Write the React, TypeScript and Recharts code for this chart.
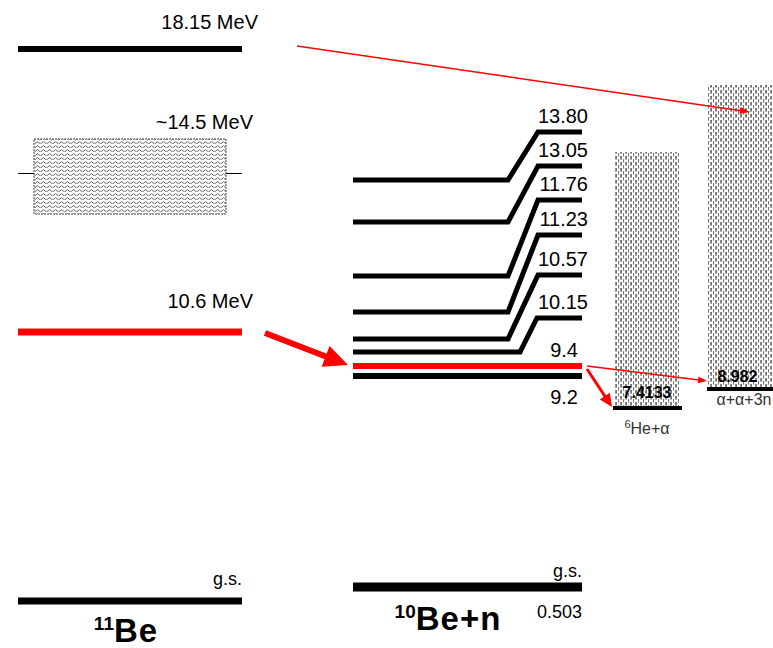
import {
  ComposedChart,
  XAxis,
  YAxis,
  Line,
  ReferenceLine,
  ReferenceArea,
  ReferenceDot,
  Customized,
} from 'recharts';

const WIDTH = 773;
const HEIGHT = 648;
const FONT = "'Liberation Sans', Arial, sans-serif";
const RED = '#ff0000';

// 11Be levels (label, height on the diagram)
const be11Names = ['18.15 MeV', '10.6 MeV', 'g.s.'];
const be11Heights = [599, 316, 47];

// broad state around 14.5 MeV, drawn as a band [bottom, top]
const be11BandName = '~14.5 MeV';
const be11Band = [434, 509];

// 10Be+n levels: height at the left (11Be side) and at the right (labelled side)
const be10nNames = ['13.80', '13.05', '11.76', '11.23', '10.57', '10.15', '9.4', '9.2', 'g.s.'];
const be10nLeft = [468, 426, 372, 336, 309, 296, 282, 272, 61];
const be10nRight = [516, 482, 448, 413, 373, 330, 282, 272, 61];
const be10nGsEnergy = '0.503';

// decay thresholds
const thresholdValues = ['7.4133', '8.982'];
const thresholdHeights = [240, 259];
const thresholdTops = [496, 563];

// transitions: [fromX, fromH, toX, toH]
const transitions = [
  [297, 602, 750, 536],
  [265, 315, 348, 283],
  [587, 282, 707, 267],
  [587, 279, 612, 241],
];

// column layout
const COL_11BE = [18, 242];
const COL_10BEN = [353, 582];
const BEND_START = [508, 508, 508, 508, 508, 520];
const BEND_END = [538, 538, 538, 538, 538, 537];
const THRESH_BOX = [
  [615, 679],
  [708, 773],
];
const THRESH_LINE = [
  [613, 682],
  [707, 773],
];

const arrowLook = [
  { w: 1.5, head: 10, headW: 7 },
  { w: 6, head: 24, headW: 22 },
  { w: 1.5, head: 9, headW: 7 },
  { w: 3, head: 13, headW: 12 },
];

function Patterns() {
  return (
    <defs>
      <pattern id="wavy" width="6" height="4" patternUnits="userSpaceOnUse">
        <rect width="6" height="4" fill="#fff" />
        <path d="M0 2.8 Q1.5 0.6 3 2.8 T6 2.8" fill="none" stroke="#555" strokeWidth="0.9" />
      </pattern>
      <pattern id="dashes" width="5" height="6" patternUnits="userSpaceOnUse">
        <rect width="5" height="6" fill="#fff" />
        <rect x="0.5" y="0" width="1.1" height="3.6" fill="#1a1a1a" />
        <rect x="3" y="3" width="1.1" height="3.6" fill="#777" />
        <rect x="3" y="-3" width="1.1" height="3.6" fill="#777" />
      </pattern>
    </defs>
  );
}

type ArrowProps = { x1?: number; y1?: number; x2?: number; y2?: number; w: number; head: number; headW: number };

function Arrow({ x1 = 0, y1 = 0, x2 = 0, y2 = 0, w, head, headW }: ArrowProps) {
  const dx = x2 - x1;
  const dy = y2 - y1;
  const len = Math.hypot(dx, dy) || 1;
  const ux = dx / len;
  const uy = dy / len;
  const bx = x2 - ux * head;
  const by = y2 - uy * head;
  const px = -uy * (headW / 2);
  const py = ux * (headW / 2);
  return (
    <g>
      <line x1={x1} y1={y1} x2={bx + ux} y2={by + uy} stroke={RED} strokeWidth={w} />
      <polygon points={`${x2},${y2} ${bx + px},${by + py} ${bx - px},${by - py}`} fill={RED} />
    </g>
  );
}

type TagOpts = {
  dx?: number;
  dy?: number;
  size?: number;
  anchor?: 'start' | 'middle' | 'end';
  bold?: boolean;
  color?: string;
};

// label drawn relative to a ReferenceDot position
function tag(content: React.ReactNode, { dx = 0, dy = 0, size = 20, anchor = 'end', bold = false, color = '#000' }: TagOpts) {
  return (props: any) => {
    const vb = props.viewBox || { x: 0, y: 0 };
    return (
      <text
        x={vb.x + dx}
        y={vb.y + dy}
        textAnchor={anchor}
        fontSize={size}
        fontFamily={FONT}
        fontWeight={bold ? 'bold' : 'normal'}
        fill={color}
      >
        {content}
      </text>
    );
  };
}

function level(key: string, pts: { x: number; y: number }[], color: string, width: number) {
  return (
    <Line
      key={key}
      data={pts}
      dataKey="y"
      type="linear"
      stroke={color}
      strokeWidth={width}
      strokeLinejoin="miter"
      dot={false}
      activeDot={false}
      isAnimationActive={false}
    />
  );
}

export default function App() {
  const [l, r] = COL_11BE;
  const [nl, nr] = COL_10BEN;
  const bandMid = (be11Band[0] + be11Band[1]) / 2 + 3;

  const be11Offsets = [
    { dx: 16, dy: -20, size: 20 },
    { dx: 11, dy: -24, size: 20 },
    { dx: 0, dy: -16, size: 18 },
  ];

  return (
    <div style={{ position: 'absolute', left: 0, top: 0, width: WIDTH, height: HEIGHT, background: '#fff' }}>
      <ComposedChart width={WIDTH} height={HEIGHT} margin={{ top: 0, right: 0, bottom: 0, left: 0 }}>
        <Customized component={<Patterns />} />
        <XAxis type="number" dataKey="x" domain={[0, WIDTH]} hide allowDataOverflow />
        <YAxis type="number" domain={[0, HEIGHT]} hide allowDataOverflow />

        {/* threshold continua */}
        {thresholdHeights.map((h, i) => (
          <ReferenceArea
            key={`tb${i}`}
            x1={THRESH_BOX[i][0]}
            x2={THRESH_BOX[i][1]}
            y1={h}
            y2={thresholdTops[i]}
            fill="url(#dashes)"
            fillOpacity={1}
            stroke="none"
            ifOverflow="visible"
          />
        ))}

        {/* 11Be broad state */}
        <ReferenceArea
          x1={34}
          x2={226}
          y1={be11Band[0]}
          y2={be11Band[1]}
          fill="url(#wavy)"
          fillOpacity={1}
          stroke="#444"
          strokeWidth={1}
          strokeDasharray="2 1"
        />
        <ReferenceLine segment={[{ x: l, y: bandMid }, { x: 34, y: bandMid }]} stroke="#000" strokeWidth={1} />
        <ReferenceLine segment={[{ x: 226, y: bandMid }, { x: r, y: bandMid }]} stroke="#000" strokeWidth={1} />

        {/* 11Be levels */}
        {be11Heights.map((h, i) =>
          level(`b11${i}`, [{ x: l, y: h }, { x: r, y: h }], be11Names[i] === '10.6 MeV' ? RED : '#000', i === 0 ? 6 : 7),
        )}

        {/* 10Be+n levels */}
        {be10nNames.map((name, i) => {
          const lh = be10nLeft[i];
          const rh = be10nRight[i];
          const pts =
            lh === rh
              ? [{ x: nl, y: lh }, { x: nr, y: rh }]
              : [
                  { x: nl, y: lh },
                  { x: BEND_START[i], y: lh },
                  { x: BEND_END[i], y: rh },
                  { x: nr, y: rh },
                ];
          const color = name === '9.4' ? RED : '#000';
          const w = name === 'g.s.' ? 9 : lh === rh ? 6 : 5;
          return level(`b10${i}`, pts, color, w);
        })}

        {/* threshold lines */}
        {thresholdHeights.map((h, i) =>
          level(`th${i}`, [{ x: THRESH_LINE[i][0], y: h }, { x: THRESH_LINE[i][1], y: h }], '#000', 4),
        )}

        {/* transitions */}
        {transitions.map(([x1, y1, x2, y2], i) => (
          <ReferenceLine
            key={`tr${i}`}
            segment={[{ x: x1, y: y1 }, { x: x2, y: y2 }]}
            ifOverflow="visible"
            shape={(p: any) => <Arrow x1={p.x1} y1={p.y1} x2={p.x2} y2={p.y2} {...arrowLook[i]} />}
          />
        ))}

        {/* 11Be labels */}
        {be11Heights.map((h, i) => (
          <ReferenceDot
            key={`l11${i}`}
            x={r}
            y={h}
            r={0}
            fill="none"
            stroke="none"
            label={{ content: tag(be11Names[i], be11Offsets[i]) }}
          />
        ))}
        <ReferenceDot
          x={r}
          y={be11Band[1]}
          r={0}
          fill="none"
          stroke="none"
          label={{ content: tag(be11BandName, { dx: 11, dy: -10 }) }}
        />

        {/* 10Be+n labels */}
        {be10nNames.map((name, i) => {
          let opts: TagOpts = { dx: 6, dy: -9 };
          if (name === '9.4') opts = { dx: -4, dy: -9 };
          if (name === '9.2') opts = { dx: -4, dy: 28 };
          if (name === 'g.s.') opts = { dx: 0, dy: -10, size: 18 };
          return (
            <ReferenceDot
              key={`l10${i}`}
              x={nr}
              y={be10nRight[i]}
              r={0}
              fill="none"
              stroke="none"
              label={{ content: tag(name, opts) }}
            />
          );
        })}
        <ReferenceDot
          x={nr}
          y={be10nRight[8]}
          r={0}
          fill="none"
          stroke="none"
          label={{ content: tag(be10nGsEnergy, { dy: 31, size: 18 }) }}
        />

        {/* threshold labels */}
        {thresholdHeights.map((h, i) => {
          const cx = (THRESH_BOX[i][0] + THRESH_BOX[i][1]) / 2 + (i === 1 ? -3 : 0);
          return (
            <ReferenceDot
              key={`tv${i}`}
              x={cx}
              y={h}
              r={0}
              fill="none"
              stroke="none"
              ifOverflow="visible"
              label={{ content: tag(thresholdValues[i], { anchor: 'middle', dy: i === 0 ? -10 : -7, size: 16, bold: true }) }}
            />
          );
        })}
        <ReferenceDot
          x={647}
          y={thresholdHeights[0]}
          r={0}
          fill="none"
          stroke="none"
          label={{
            content: tag(
              <>
                <tspan fontSize={11} dy={-6}>6</tspan>
                <tspan dy={6}>He+α</tspan>
              </>,
              { anchor: 'middle', dy: 26, size: 16, color: '#333' },
            ),
          }}
        />
        <ReferenceDot
          x={744}
          y={thresholdHeights[1]}
          r={0}
          fill="none"
          stroke="none"
          label={{ content: tag('α+α+3n', { anchor: 'middle', dy: 16, size: 16, color: '#333' }) }}
        />

        {/* column titles */}
        <ReferenceDot
          x={126}
          y={be11Heights[2]}
          r={0}
          fill="none"
          stroke="none"
          label={{
            content: tag(
              <>
                <tspan fontSize={19} dy={-12}>11</tspan>
                <tspan dy={12} letterSpacing={1}>Be</tspan>
              </>,
              { anchor: 'middle', dy: 41, size: 33, bold: true },
            ),
          }}
        />
        <ReferenceDot
          x={448}
          y={be10nRight[8]}
          r={0}
          fill="none"
          stroke="none"
          label={{
            content: tag(
              <>
                <tspan fontSize={19} dy={-12}>10</tspan>
                <tspan dy={12} letterSpacing={1}>Be+n</tspan>
              </>,
              { anchor: 'middle', dy: 43, size: 33, bold: true },
            ),
          }}
        />
      </ComposedChart>
    </div>
  );
}
